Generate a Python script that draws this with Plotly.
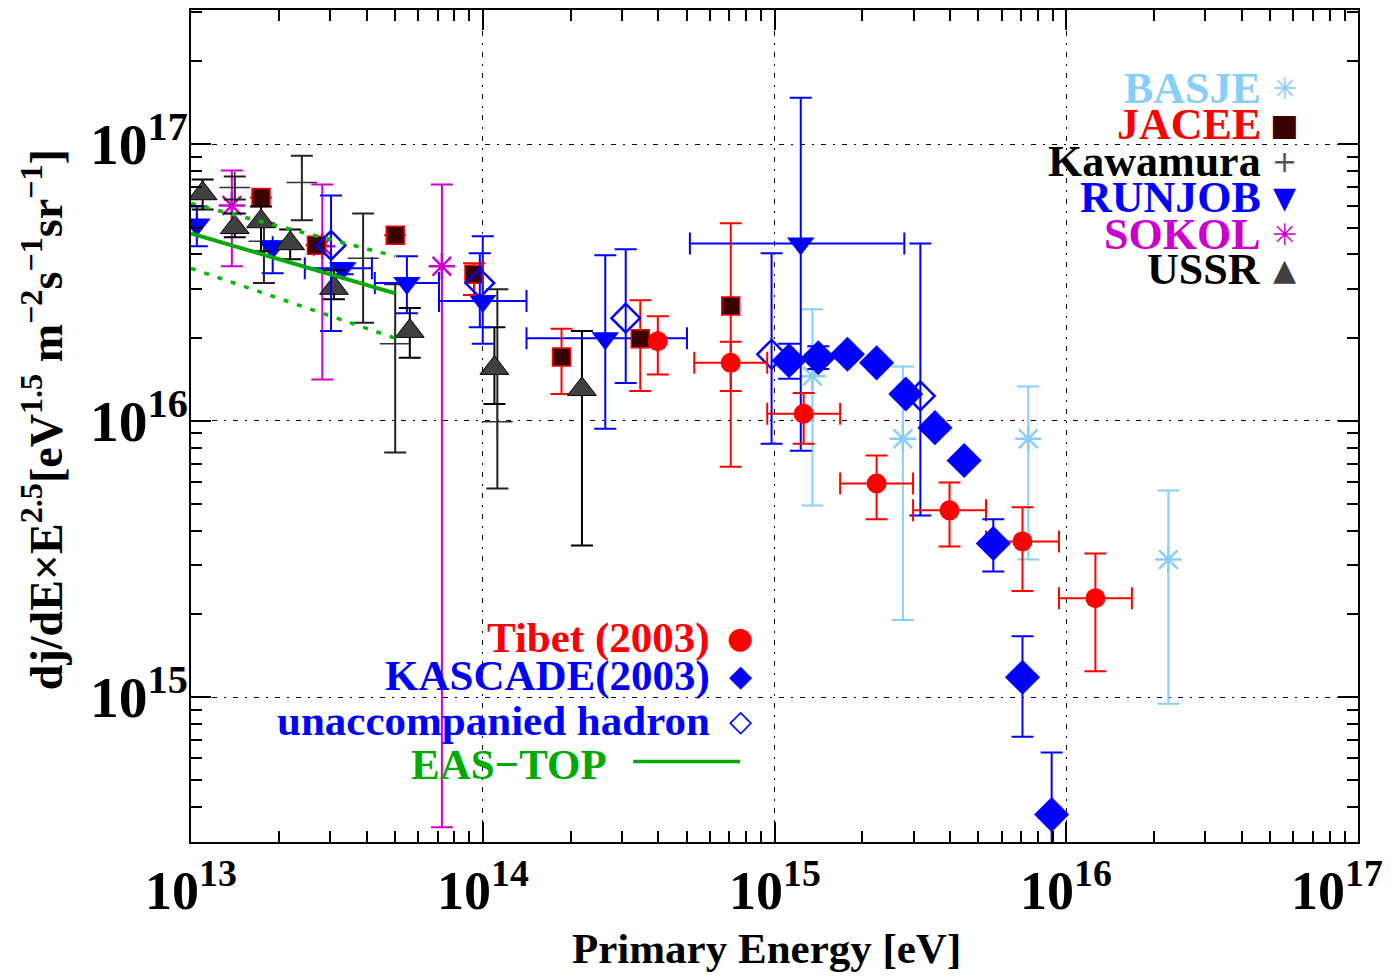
import numpy as np
import plotly.graph_objects as go

# fluxes below are in units of 1e16 eV^1.5 m^-2 s^-1 sr^-1, energies as log10(E/eV)
UNIT = 1e16

# Tibet (2003)
tibet_logE = [14.60, 14.85, 15.10, 15.35, 15.60, 15.85, 16.10]
tibet_dlogE = [0.0, 0.125, 0.125, 0.125, 0.125, 0.125, 0.125]
tibet_flux = [1.94, 1.62, 1.06, 0.593, 0.474, 0.366, 0.228]
tibet_hi = [2.39, 1.93, 1.26, 0.748, 0.598, 0.486, 0.331]
tibet_lo = [1.47, 0.682, 0.826, 0.440, 0.351, 0.242, 0.124]

# KASCADE (2003)
kas_logE = [15.05, 15.15, 15.25, 15.35, 15.45, 15.55, 15.65, 15.75, 15.85, 15.95]
kas_flux = [1.65, 1.69, 1.74, 1.62, 1.25, 0.944, 0.718, 0.360, 0.118, 0.0376]
kas_hi = [1.90, 1.86, 1.80, 1.67, 1.29, 0.97, 0.74, 0.440, 0.166, 0.0630]
kas_lo = [1.42, 1.54, 1.68, 1.57, 1.21, 0.92, 0.70, 0.285, 0.0719, 0.0259]

# unaccompanied hadron
unac_logE = [13.48, 13.99, 14.49, 14.99, 15.50]
unac_flux = [4.31, 3.15, 2.35, 1.74, 1.23]
unac_hi = [6.53, 4.04, 4.17, 4.04, 4.38]
unac_lo = [2.11, 2.18, 1.37, 0.826, 0.454]

# RUNJOB
run_logE = [13.02, 13.28, 13.52, 13.74, 14.00, 14.42, 15.09]
run_dlo = [0.0, 0.0, 0.13, 0.11, 0.15, 0.27, 0.38]
run_dhi = [0.0, 0.0, 0.10, 0.11, 0.15, 0.28, 0.355]
run_flux = [5.13, 4.24, 3.56, 3.15, 2.71, 1.99, 4.38]
run_hi = [5.96, 4.46, 3.71, 3.94, 4.65, 3.97, 14.73]
run_lo = [4.28, 3.42, 3.39, 2.45, 1.90, 0.936, 0.779]

# JACEE
jac_logE = [13.24, 13.43, 13.70, 13.97, 14.27, 14.54, 14.85]
jac_flux = [6.42, 4.31, 4.69, 3.39, 1.70, 1.98, 2.60]
jac_hi = [6.42, 4.31, 4.69, 3.71, 2.15, 2.73, 5.18]
jac_lo = [6.42, 4.31, 4.69, 2.85, 1.25, 1.28, 1.28]

# USSR
ussr_logE = [13.04, 13.15, 13.24, 13.34, 13.49, 13.75, 14.04, 14.34]
ussr_flux = [6.64, 5.01, 5.26, 4.38, 3.02, 2.11, 1.55, 1.30]
ussr_hi = [7.46, 5.62, 5.96, 4.92, 3.50, 2.56, 2.18, 2.11]
ussr_lo = [5.81, 4.61, 4.10, 3.84, 2.75, 1.69, 1.15, 0.354]

# Kawamura
kaw_logE = [13.15, 13.25, 13.38, 13.59, 13.70, 14.05]
kaw_flux = [6.98, 4.46, 7.28, 3.87, 1.90, 0.992]
kaw_hi = [7.65, 5.18, 9.10, 5.62, 3.12, 2.99]
kaw_lo = [6.32, 3.15, 5.31, 2.26, 0.767, 0.569]

# SOKOL
sok_logE = [13.14, 13.45, 13.86]
sok_flux = [6.01, 4.28, 3.62]
sok_hi = [8.04, 7.16, 7.16]
sok_lo = [3.62, 1.41, 0.0338]

# BASJE
bas_logE = [15.13, 15.44, 15.87, 16.35]
bas_flux = [1.45, 0.861, 0.861, 0.315]
bas_hi = [2.53, 1.57, 1.33, 0.559]
bas_lo = [0.494, 0.190, 0.315, 0.0946]

# EAS-TOP band
eas_logE = [13.0, 13.7]
eas_flux = [4.76, 2.89]
eas_upper = [6.11, 3.94]
eas_lower = [3.56, 1.99]

# x tick labels (decades)
x_ticks = [13, 14, 15, 16, 17]


def energies(logE):
    return 10 ** np.array(logE)


def yerr(flux, hi, lo, color, width=2, cap=11):
    f = np.array(flux)
    return dict(type='data', symmetric=False,
                array=(np.array(hi) - f) * UNIT,
                arrayminus=(f - np.array(lo)) * UNIT,
                color=color, thickness=width, width=cap)


def xerr(logE, dlo, dhi, color, width=2, cap=11):
    le = np.array(logE)
    e = 10 ** le
    return dict(type='data', symmetric=False,
                array=10 ** (le + np.array(dhi)) - e,
                arrayminus=e - 10 ** (le - np.array(dlo)),
                color=color, thickness=width, width=cap)


def flux(v):
    return np.array(v) * UNIT


fig = go.Figure()

# SOKOL
fig.add_trace(go.Scatter(
    x=energies(sok_logE), y=flux(sok_flux), mode='markers',
    marker=dict(symbol='asterisk-open', size=22, color='#cc00cc',
                line=dict(color='#cc00cc', width=2.5)),
    error_y=yerr(sok_flux, sok_hi, sok_lo, '#d000d0'),
    name='SOKOL'))

# Kawamura
fig.add_trace(go.Scatter(
    x=energies(kaw_logE), y=flux(kaw_flux), mode='markers',
    marker=dict(symbol='cross-thin-open', size=22, color='#333333',
                line=dict(color='#333333', width=1.5)),
    error_y=yerr(kaw_flux, kaw_hi, kaw_lo, '#222222'),
    name='Kawamura'))

# BASJE
fig.add_trace(go.Scatter(
    x=energies(bas_logE), y=flux(bas_flux), mode='markers',
    marker=dict(symbol='asterisk-open', size=22, color='#87cefa',
                line=dict(color='#87cefa', width=2.5)),
    error_y=yerr(bas_flux, bas_hi, bas_lo, '#87cefa'),
    name='BASJE'))

# RUNJOB
fig.add_trace(go.Scatter(
    x=energies(run_logE), y=flux(run_flux), mode='markers',
    marker=dict(symbol='triangle-down', size=24, color='#0000ff'),
    error_y=yerr(run_flux, run_hi, run_lo, '#0000ff'),
    error_x=xerr(run_logE, run_dlo, run_dhi, '#0000ff'),
    name='RUNJOB'))

# JACEE
fig.add_trace(go.Scatter(
    x=energies(jac_logE), y=flux(jac_flux), mode='markers',
    marker=dict(symbol='square', size=18, color='#3a0000',
                line=dict(color='#ff0000', width=1.5)),
    error_y=yerr(jac_flux, jac_hi, jac_lo, '#ff0000'),
    name='JACEE'))

# USSR
fig.add_trace(go.Scatter(
    x=energies(ussr_logE), y=flux(ussr_flux), mode='markers',
    marker=dict(symbol='triangle-up', size=25, color='#404040',
                line=dict(color='#000000', width=1)),
    error_y=yerr(ussr_flux, ussr_hi, ussr_lo, '#000000'),
    name='USSR'))

# unaccompanied hadron
fig.add_trace(go.Scatter(
    x=energies(unac_logE), y=flux(unac_flux), mode='markers',
    marker=dict(symbol='diamond-open', size=22, color='#0000ff',
                line=dict(color='#0000ff', width=2.5)),
    error_y=yerr(unac_flux, unac_hi, unac_lo, '#0000ff'),
    name='unaccompanied hadron'))

# Tibet
fig.add_trace(go.Scatter(
    x=energies(tibet_logE), y=flux(tibet_flux), mode='markers',
    marker=dict(symbol='circle', size=20, color='#ff0000'),
    error_y=yerr(tibet_flux, tibet_hi, tibet_lo, '#ff0000'),
    error_x=xerr(tibet_logE, tibet_dlogE, tibet_dlogE, '#ff0000'),
    name='Tibet (2003)'))

# KASCADE
fig.add_trace(go.Scatter(
    x=energies(kas_logE), y=flux(kas_flux), mode='markers',
    marker=dict(symbol='diamond', size=27, color='#0000ff'),
    error_y=yerr(kas_flux, kas_hi, kas_lo, '#0000ff'),
    name='KASCADE(2003)'))

# EAS-TOP
fig.add_trace(go.Scatter(
    x=energies(eas_logE), y=flux(eas_flux), mode='lines',
    line=dict(color='#00aa00', width=4), name='EAS-TOP'))
for band in (eas_upper, eas_lower):
    fig.add_trace(go.Scatter(
        x=energies(eas_logE), y=flux(band), mode='lines',
        line=dict(color='#00bb00', width=3.5, dash='5px,9px'),
        showlegend=False))

serif = 'Liberation Serif'
axis_common = dict(
    type='log', showline=True, linecolor='black', linewidth=2,
    mirror='allticks', ticks='inside', ticklen=20, tickwidth=1.5,
    tickcolor='black', dtick=1, exponentformat='power',
    showgrid=True, gridcolor='black', gridwidth=1.2,
    griddash='5px,7px,2px,7px', zeroline=False,
    tickfont=dict(family=serif, size=46, color='black', weight='bold'),
    minor=dict(ticks='inside', ticklen=11, tickwidth=1.5,
               tickcolor='black', dtick='D1', showgrid=False),
)

# the page adds an 8px body margin, so the figure is drawn 8px in from the corner
fig.update_layout(
    width=1383, height=968,
    margin=dict(l=183, r=33, t=0, b=134),
    paper_bgcolor='white', plot_bgcolor='white',
    showlegend=False,
    xaxis=dict(range=[13, 17], showticklabels=False, **axis_common),
    yaxis=dict(range=[14.476, 17.486], ticklabelstandoff=-8, **axis_common),
    font=dict(family=serif, color='black'),
)

# x tick labels as text under the axis; the last one is pulled in from the page edge
for t in x_ticks:
    pos = (t - 13) / 4
    if t == 17:
        pos -= 0.018
    fig.add_annotation(
        text='10<sup>%d</sup>' % t, xref='paper', yref='paper', x=pos, y=-0.010,
        xanchor='center', yanchor='top', showarrow=False,
        font=dict(family=serif, size=54, color='black', weight='bold'))

# axis titles
fig.add_annotation(
    text='Primary Energy [eV]', xref='paper', yref='paper',
    x=0.493, y=-0.128, xanchor='center', yanchor='middle', showarrow=False,
    font=dict(family=serif, size=43, color='black', weight='bold'))
fig.add_annotation(
    text='dj/dE×E<sup>2.5</sup>[eV<sup>1.5</sup> m<sup>−2</sup>s<sup>−1</sup>sr<sup>−1</sup>]',
    xref='paper', yref='paper', x=-0.127, y=0.508, textangle=-90,
    xanchor='center', yanchor='middle', showarrow=False,
    font=dict(family=serif, size=46, color='black', weight='bold'))

# legend, top right block
top_labels = ['BASJE', 'JACEE', 'Kawamura', 'RUNJOB', 'SOKOL', 'USSR']
top_colors = ['#87cefa', '#ff0000', '#000000', '#0000ff', '#cc00cc', '#000000']
top_glyphs = ['✳', '■', '+', '▼', '✳', '▲']
top_gcolors = ['#87cefa', '#3a0000', '#555555', '#0000ff', '#cc00cc', '#404040']
top_rows = [0.9054, 0.8622, 0.8179, 0.7748, 0.7304, 0.6885]
for lab, col, g, gc, yy in zip(top_labels, top_colors, top_glyphs, top_gcolors, top_rows):
    fig.add_annotation(text=lab, xref='paper', yref='paper', x=0.919, y=yy,
                       xanchor='right', yanchor='middle', showarrow=False,
                       font=dict(family=serif, size=44, color=col, weight='bold'))
    fig.add_annotation(text=g, xref='paper', yref='paper', x=0.937, y=yy,
                       xanchor='center', yanchor='middle', showarrow=False,
                       font=dict(family='DejaVu Sans', size=30, color=gc))

# legend, bottom block
bot_labels = ['Tibet (2003)', 'KASCADE(2003)', 'unaccompanied hadron', 'EAS−TOP']
bot_colors = ['#ff0000', '#0000ff', '#0000ff', '#00aa00']
bot_glyphs = ['●', '◆', '◇', '']
bot_rows = [0.2453, 0.1998, 0.1459, 0.0932]
bot_x = [0.4465, 0.4465, 0.4465, 0.3585]
for lab, col, g, yy, xx in zip(bot_labels, bot_colors, bot_glyphs, bot_rows, bot_x):
    fig.add_annotation(text=lab, xref='paper', yref='paper', x=xx, y=yy,
                       xanchor='right', yanchor='middle', showarrow=False,
                       font=dict(family=serif, size=43, color=col, weight='bold'))
    if g:
        fig.add_annotation(text=g, xref='paper', yref='paper', x=0.4705, y=yy,
                           xanchor='center', yanchor='middle', showarrow=False,
                           font=dict(family='DejaVu Sans', size=30, color=col))
fig.add_shape(type='line', xref='paper', yref='paper',
              x0=0.3789, x1=0.4705, y0=0.0968, y1=0.0968,
              line=dict(color='#00aa00', width=3.5))

fig.write_html('out.html')
